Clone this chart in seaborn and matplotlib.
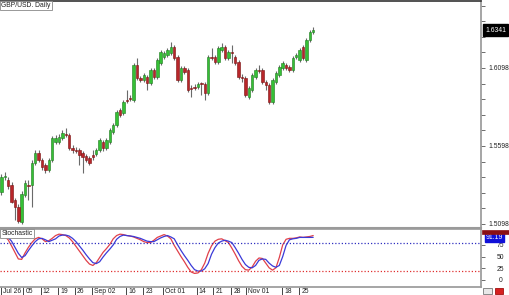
import numpy as np
import pandas as pd
import matplotlib
matplotlib.use("Agg")
import matplotlib.pyplot as plt
import seaborn as sns
from matplotlib.transforms import ScaledTranslation, blended_transform_factory
from matplotlib.patches import Rectangle

# ---------------- data ----------------
opens = [1.5303, 1.5399, 1.5380, 1.5348, 1.5252, 1.5207, 1.5111, 1.5284, 1.5348, 1.5348,
         1.5489, 1.5553, 1.5508, 1.5476, 1.5444, 1.5508, 1.5624, 1.5624, 1.5649, 1.5675,
         1.5669, 1.5585, 1.5572, 1.5572, 1.5553, 1.5534, 1.5521, 1.5540, 1.5547, 1.5572,
         1.5624, 1.5585, 1.5624, 1.5688, 1.5733, 1.5829, 1.5810, 1.5893, 1.5906, 1.5893,
         1.6117, 1.6034, 1.6021, 1.6040, 1.6002, 1.6085, 1.6040, 1.6130, 1.6169, 1.6181,
         1.6194, 1.6233, 1.6169, 1.6021, 1.6098, 1.6085, 1.5970, 1.5976, 1.5976, 1.6002,
         1.5996, 1.5938, 1.6169, 1.6169, 1.6136, 1.6213, 1.6233, 1.6162, 1.6201, 1.6169,
         1.6136, 1.6040, 1.6034, 1.5912, 1.5957, 1.6040, 1.6085, 1.6085, 1.6008, 1.5989,
         1.5880, 1.6008, 1.6053, 1.6098, 1.6117, 1.6104, 1.6085, 1.6169, 1.6149, 1.6233,
         1.6149, 1.6278, 1.6329]
highs = [1.5419, 1.5431, 1.5399, 1.5367, 1.5265, 1.5226, 1.5310, 1.5380, 1.5380, 1.5508,
         1.5572, 1.5572, 1.5521, 1.5489, 1.5521, 1.5662, 1.5669, 1.5675, 1.5701, 1.5713,
         1.5681, 1.5604, 1.5592, 1.5585, 1.5566, 1.5547, 1.5534, 1.5572, 1.5585, 1.5649,
         1.5637, 1.5649, 1.5713, 1.5746, 1.5829, 1.5842, 1.5893, 1.5957, 1.5925, 1.6130,
         1.6162, 1.6047, 1.6066, 1.6053, 1.6098, 1.6098, 1.6162, 1.6213, 1.6207, 1.6226,
         1.6265, 1.6245, 1.6181, 1.6111, 1.6111, 1.6098, 1.5989, 1.5996, 1.6008, 1.6008,
         1.6008, 1.6181, 1.6226, 1.6181, 1.6239, 1.6258, 1.6245, 1.6213, 1.6245, 1.6181,
         1.6149, 1.6060, 1.6047, 1.5983, 1.6066, 1.6098, 1.6117, 1.6098, 1.6021, 1.6002,
         1.6034, 1.6079, 1.6117, 1.6143, 1.6130, 1.6117, 1.6175, 1.6194, 1.6226, 1.6245,
         1.6290, 1.6342, 1.6361]
lows = [1.5284, 1.5380, 1.5322, 1.5233, 1.5124, 1.5104, 1.5098, 1.5271, 1.5252, 1.5207,
        1.5476, 1.5496, 1.5444, 1.5425, 1.5431, 1.5496, 1.5611, 1.5611, 1.5637, 1.5656,
        1.5572, 1.5553, 1.5553, 1.5476, 1.5425, 1.5496, 1.5476, 1.5508, 1.5534, 1.5560,
        1.5566, 1.5572, 1.5611, 1.5675, 1.5720, 1.5784, 1.5797, 1.5874, 1.5886, 1.5880,
        1.6021, 1.6008, 1.6008, 1.5957, 1.5989, 1.6028, 1.6028, 1.6117, 1.6156, 1.6169,
        1.6181, 1.6149, 1.6008, 1.6008, 1.6060, 1.5944, 1.5912, 1.5957, 1.5964, 1.5925,
        1.5893, 1.5925, 1.6149, 1.6124, 1.6124, 1.6201, 1.6149, 1.6149, 1.6130, 1.6117,
        1.6028, 1.6008, 1.5912, 1.5899, 1.5944, 1.6028, 1.6066, 1.5996, 1.5957, 1.5867,
        1.5867, 1.5996, 1.6040, 1.6085, 1.6085, 1.6072, 1.6072, 1.6156, 1.6136, 1.6149,
        1.6136, 1.6265, 1.6316]
closes = [1.5399, 1.5406, 1.5341, 1.5239, 1.5207, 1.5117, 1.5290, 1.5361, 1.5341, 1.5489,
          1.5553, 1.5508, 1.5463, 1.5444, 1.5508, 1.5649, 1.5649, 1.5656, 1.5681, 1.5669,
          1.5585, 1.5572, 1.5566, 1.5540, 1.5528, 1.5508, 1.5489, 1.5528, 1.5572, 1.5637,
          1.5585, 1.5637, 1.5701, 1.5733, 1.5816, 1.5797, 1.5880, 1.5886, 1.5899, 1.6117,
          1.6034, 1.6021, 1.6053, 1.6002, 1.6085, 1.6040, 1.6149, 1.6201, 1.6194, 1.6213,
          1.6233, 1.6162, 1.6021, 1.6098, 1.6072, 1.5957, 1.5964, 1.5970, 1.5996, 1.5996,
          1.5938, 1.6169, 1.6162, 1.6136, 1.6226, 1.6233, 1.6162, 1.6201, 1.6194, 1.6130,
          1.6040, 1.6034, 1.5925, 1.5970, 1.6053, 1.6085, 1.6079, 1.6008, 1.5989, 1.5880,
          1.6021, 1.6066, 1.6104, 1.6130, 1.6098, 1.6085, 1.6162, 1.6181, 1.6213, 1.6162,
          1.6278, 1.6329, 1.6341]

stoch_blue = [93, 92, 91, 83, 70, 57, 48, 52, 63, 73, 82, 88, 89, 86, 82, 85, 88, 94, 96, 96,
              94, 89, 82, 73, 64, 54, 45, 37, 35, 39, 49, 58, 66, 75, 87, 93, 96, 95, 94, 93,
              91, 89, 86, 83, 82, 82, 86, 90, 93, 95, 92, 88, 75, 63, 52, 42, 31, 22, 19, 19,
              24, 35, 55, 69, 79, 83, 85, 83, 80, 69, 57, 44, 33, 27, 26, 31, 42, 45, 44, 36,
              30, 27, 31, 50, 74, 86, 88, 89, 91, 91, 91, 91, 91.19]
stoch_red = [95, 93, 86, 73, 59, 45, 44, 58, 70, 80, 88, 91, 88, 82, 84, 89, 95, 98, 97, 95,
             90, 82, 72, 62, 52, 42, 34, 31, 37, 48, 59, 67, 76, 88, 95, 98, 97, 95, 94, 92,
             89, 86, 82, 80, 80, 85, 91, 94, 97, 94, 88, 74, 62, 50, 39, 27, 17, 14, 15, 22,
             36, 57, 73, 83, 87, 88, 84, 80, 68, 55, 41, 29, 22, 21, 28, 40, 47, 46, 36, 26,
             21, 26, 48, 75, 87, 89, 89, 90, 92, 91, 92, 93, 95]

date_ticks = [0, 6.5, 11.6, 16.8, 21.7, 26.8, 36.8, 41.9, 47.8, 57.6, 62.5, 67.8, 72.2, 82.9, 87.9]
date_labels = ["Jul 26", "05", "12", "19", "26", "Sep 02", "16", "23", "Oct 01",
               "14", "21", "28", "Nov 01", "18", "25"]

price_labels = [1.5098, 1.5598, 1.6098]
stoch_levels = [0, 25, 50, 75]
last_price = 1.6341
last_stoch = 91.19

# ---------------- style ----------------
sns.set_theme(style="white")
plt.rcParams["font.family"] = ["Liberation Sans", "DejaVu Sans"]
FS = 4.9
GREY = "#9a9a9a"

W, H = 510, 295
fig = plt.figure(figsize=(W / 100, H / 100), dpi=100)
ax = fig.add_axes([0, 1 - 228 / H, 481 / W, 227 / H])
ax2 = fig.add_axes([0, 1 - 286.5 / H, 481 / W, 57.5 / H], sharex=ax)

df = pd.DataFrame({"i": np.arange(len(opens)), "open": opens, "high": highs,
                   "low": lows, "close": closes})
df["up"] = df["close"] >= df["open"]
df["bottom"] = df[["open", "close"]].min(axis=1)
df["height"] = (df["close"] - df["open"]).abs()

# wicks
ax.vlines(df["i"], df["low"], df["high"], color="#6a6a6a", lw=0.8, zorder=2)
up = df[df["up"]]
dn = df[~df["up"]]
ax.bar(up["i"], up["height"], bottom=up["bottom"], width=0.72, color="#35c035",
       edgecolor="#1e7a1e", lw=0.4, zorder=3)
ax.bar(dn["i"], dn["height"], bottom=dn["bottom"], width=0.72, color="#b8262a",
       edgecolor="#7a1010", lw=0.4, zorder=3)

# price axis on the right
ax.yaxis.tick_right()
ax.set_yticks(price_labels)
ax.set_yticklabels([f"{v:.4f}" for v in price_labels])
ax.set_yticks(np.round(np.arange(1.5098, 1.652, 0.01), 4), minor=True)
ax.tick_params(axis="y", which="both", direction="out", length=3, width=0.6,
               color="#555555", labelsize=FS, pad=2, labelcolor="#222222",
               right=True, left=False)
ax.tick_params(axis="x", which="both", bottom=False, labelbottom=False)
ax.set_xlim(-0.4, 141.5)
ax.set_ylim(1.5072, 1.6527)
ax.set_xlabel("")
ax.set_ylabel("")
ax.spines["left"].set_visible(False)
ax.spines["top"].set_color("#333333")
ax.spines["top"].set_linewidth(1.2)
ax.spines["right"].set_color(GREY)
ax.spines["bottom"].set_color(GREY)
ax.spines["bottom"].set_linewidth(1.5)

# last price box
tr = blended_transform_factory(ax.transAxes, ax.transData)
ax.text(1.0 + 4 / 481, last_price, f"{last_price:.4f}", transform=tr, ha="left",
        va="center", color="white", fontsize=FS,
        bbox=dict(boxstyle="square,pad=0.3", fc="black", ec="black"), clip_on=False)

ax.text(0.003, 0.995, "GBP/USD. Daily", transform=ax.transAxes, ha="left", va="top",
        fontsize=FS, color="#222222",
        bbox=dict(boxstyle="square,pad=0.15", fc="white", ec="#888888", lw=0.6))

# ---------------- stochastic ----------------
st = pd.DataFrame({"i": np.arange(len(stoch_blue)), "%D": stoch_blue, "%K": stoch_red})
st_long = st.melt(id_vars="i", var_name="line", value_name="value")
sns.lineplot(data=st_long, x="i", y="value", hue="line",
             palette={"%D": "#3a3ad8", "%K": "#e0404a"}, hue_order=["%K", "%D"],
             legend=False, lw=0.9, ax=ax2)
ax2.axhline(80, color="#3030c0", ls=(0, (1, 1.6)), lw=0.9)
ax2.axhline(20, color="#e03030", ls=(0, (1, 1.6)), lw=0.9)
ax2.yaxis.tick_right()
ax2.set_yticks(stoch_levels)
ax2.set_yticklabels([str(v) for v in stoch_levels])
ax2.set_ylim(-14, 109)
ax2.tick_params(axis="y", direction="out", length=3, width=0.6, color="#555555",
                labelsize=FS, pad=11, labelcolor="#222222", right=True, left=False)
for lab in ax2.get_yticklabels():
    lab.set_horizontalalignment("center")
ax2.set_xlabel("")
ax2.set_ylabel("")
for s in ax2.spines.values():
    s.set_color(GREY)
ax2.spines["left"].set_visible(False)
ax2.spines["top"].set_linewidth(1.2)

ax2.set_xticks(date_ticks)
ax2.set_xticklabels(date_labels)
ax2.tick_params(axis="x", direction="out", length=7, width=0.7, color="#444444",
                labelsize=FS, pad=-6, labelcolor="#222222", bottom=True)
off = ScaledTranslation(2 / 100, 0, fig.dpi_scale_trans)
for lab in ax2.get_xticklabels():
    lab.set_horizontalalignment("left")
    lab.set_transform(lab.get_transform() + off)
ax2.set_xlim(-0.4, 141.5)

# value boxes at the right edge of the stochastic panel
fig.patches.append(Rectangle((482 / W, 1 - 234 / H), 27 / W, 4 / H, transform=fig.transFigure,
                             fc="#8a0f14", ec="#8a0f14", lw=0.5))
tr2 = blended_transform_factory(ax2.transAxes, ax2.transData)
ax2.text(1.0 + 5 / 481, last_stoch, f"{last_stoch:.2f}", transform=tr2, ha="left",
         va="center", color="white", fontsize=FS,
         bbox=dict(boxstyle="square,pad=0.12", fc="#1010d8", ec="#1010d8"), clip_on=False)
ax2.text(0.003, 0.985, "Stochastic", transform=ax2.transAxes, ha="left", va="top",
         fontsize=FS, color="#222222",
         bbox=dict(boxstyle="square,pad=0.15", fc="white", ec="#888888", lw=0.6))

# small corner icons
fig.patches.append(Rectangle((483 / W, 1 - 294 / H), 9 / W, 6 / H, transform=fig.transFigure,
                             fc="#e8e8e8", ec="#777777", lw=0.6))
fig.patches.append(Rectangle((495 / W, 1 - 294 / H), 8 / W, 6 / H, transform=fig.transFigure,
                             fc="#d62020", ec="#a01010", lw=0.6))

fig.savefig("out.png", dpi=100, facecolor="white")
